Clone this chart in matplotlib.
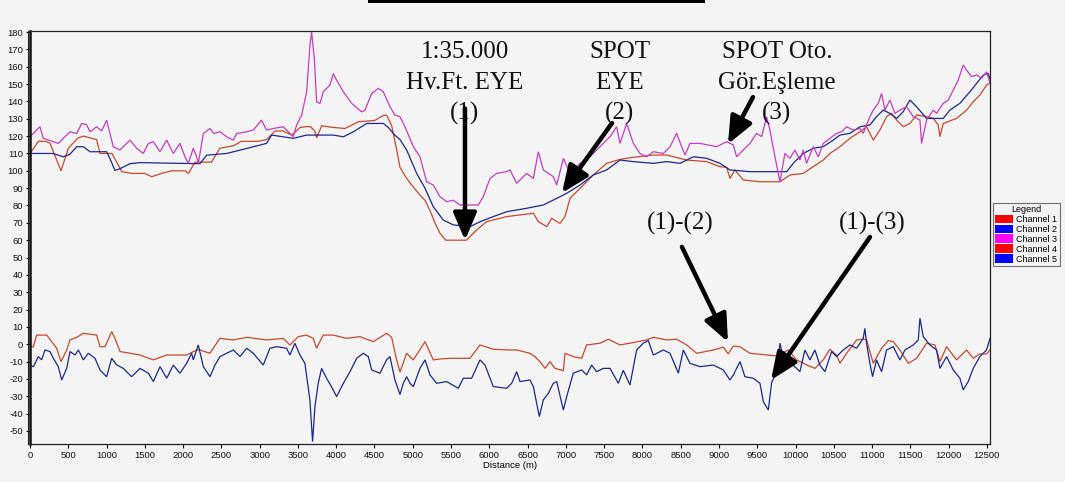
import matplotlib
matplotlib.use('Agg')
import matplotlib.pyplot as plt
from matplotlib.patches import Patch, Rectangle
from matplotlib.lines import Line2D

# ---------------- data (distance m, elevation / difference) ----------------
ch1 = [(0,110),(110,117),(200,117),(260,116),(405,100),(500,113),(630,119),(700,120),(870,118),(915,110),
       (1070,110),(1200,99.5),(1330,98.5),(1500,98.5),(1590,96.6),(1720,98.5),(1850,100),(2025,100),(2070,98.5),
       (2155,105),(2370,105),(2480,113),(2660,114.5),(2760,117),(2980,117),(3090,118),(3200,122.9),(3300,123),
       (3420,120.6),(3530,125),(3590,125.4),(3660,125.5),(3720,123),(3745,119),(3810,126),(3960,125),(4115,124.4),
       (4290,128.3),(4500,129),(4620,132),(4660,132),(4725,126),(4790,112),(4833,102),(4900,97),(4964,93),
       (5094,86),(5160,83),(5225,77),(5290,70),(5355,64),(5430,60),(5700,60),(5835,65.9),(5965,70.7),(6226,73.6),
       (6575,75.5),(6640,70.7),(6750,67.8),(6814,72.6),(6923,69.7),(6988,73.6),(7054,84.1),(7184,89.9),(7271,93.7),
       (7358,97.6),(7532,104.3),(7707,106.6),(7881,107.8),(8142,109.1),(8317,109.1),(8578,106.2),(8839,105.3),
       (9012,102.4),(9100,102),(9143,95.6),(9208,100.5),(9317,94.7),(9535,93.7),(9796,93.7),(9927,97.6),
       (10101,98.5),(10231,102.4),(10362,106.2),(10449,110),(10580,113.9),(10710,118.7),(10841,122.5),
       (10928,125.4),(10971,121.6),(11015,117.7),(11102,123.5),(11189,131.2),(11254,133.1),(11320,129.3),
       (11407,125.4),(11494,127.3),(11581,132.2),(11712,131.2),(11799,130.2),(11864,126.4),(11886,119.7),
       (11929,127.3),(12103,130.2),(12234,135),(12321,139.8),(12409,143.7),(12496,149.5),(12540,150.4)]

ch2 = [(0,110),(170,110),(300,110),(435,108.1),(520,109.5),(610,113.9),(697,113.9),(784,111),(1000,111),
       (1045,107),(1110,100.2),(1175,101.2),(1306,104.1),(1437,104.7),(2220,104.1),(2307,109),(2569,110),
       (2830,112.9),(3090,115.8),(3156,120.6),(3308,119.6),(3439,118.7),(3613,120.6),(3962,120.6),(4093,119.6),
       (4223,122.5),(4398,127.3),(4615,127.3),(4680,125),(4767,120.5),(4833,118),(4920,112),(5051,98.5),
       (5159,90),(5268,79.3),(5399,71.6),(5530,68.8),(5747,67.8),(5878,70.6),(6052,73.6),(6226,76.4),
       (6487,78.4),(6705,80.3),(6880,84.1),(7010,87),(7184,91.8),(7358,97.6),(7532,100.5),(7707,106.2),
       (7881,105.3),(8142,104.3),(8317,105.3),(8491,104.3),(8665,108.1),(8839,107.2),(9013,104.3),(9143,100.5),
       (9405,99.5),(9622,99.5),(9884,99.5),(9970,104.3),(10101,110),(10231,113),(10362,113.9),(10492,117.7),
       (10580,120.6),(10710,121.6),(10841,125.4),(10971,126.4),(11058,131.2),(11145,135),(11233,133.1),
       (11320,130.2),(11407,134.1),(11494,140.8),(11581,136.9),(11712,130.2),(11929,130.2),(12016,135),
       (12147,138.9),(12278,145.6),(12365,150.4),(12452,155.2),(12517,156.2),(12540,153)]

ch3 = [(0,119),(22,120.6),(130,125.4),(174,118.7),(305,116.8),(370,115.8),(435,118.7),(523,122.5),(610,121.5),
       (675,127.3),(740,126.5),(784,122.5),(870,125.4),(936,123),(1001,129.2),(1088,113.9),(1175,112),
       (1306,117.7),(1393,113),(1480,110),(1546,115.8),(1611,116.8),(1698,111),(1785,117.7),(1872,110),
       (1959,115.8),(2024,108.1),(2068,104.3),(2133,113),(2177,108.1),(2199,104.3),(2264,121.5),(2351,124.4),
       (2400,121.5),(2482,122.5),(2569,119.6),(2656,117.7),(2700,121.5),(2830,122.5),(2917,123.5),(3025,129.2),
       (3090,123.5),(3178,124.4),(3308,125.4),(3352,123.5),(3439,119.6),(3483,126.4),(3548,132),(3614,145.6),
       (3657,172.5),(3679,180),(3714,164.8),(3744,139.8),(3788,138.8),(3831,145.6),(3918,149.4),(3962,156),
       (4005,152.3),(4093,145.6),(4202,138.9),(4332,134),(4376,135),(4463,144.6),(4550,147.5),(4615,145.6),
       (4702,136.9),(4767,132.1),(4833,131.2),(4898,125.4),(5007,113.9),(5094,108.1),(5181,93.7),(5268,91.8),
       (5355,85.1),(5443,82.2),(5530,83),(5617,80.3),(5856,80.3),(5921,85.1),(6009,95.6),(6096,98.5),
       (6226,99.5),(6270,100.5),(6357,92.8),(6487,98.5),(6575,95.6),(6640,111),(6705,100.5),(6836,96.6),
       (6880,91.8),(6967,107.2),(7054,98.5),(7184,104.3),(7315,108.1),(7445,113.9),(7576,119.7),(7663,125.4),
       (7707,115.8),(7794,127.3),(7837,121.6),(7881,115.8),(7968,110),(8055,108.1),(8142,111),(8273,110),
       (8360,113.9),(8447,121.6),(8512,113.9),(8556,109.1),(8621,115.8),(8752,115.8),(8969,113.9),(9100,116.8),
       (9187,114.9),(9230,108.1),(9317,112),(9404,115.8),(9491,121.6),(9557,119.7),(9622,131.2),(9665,123.5),
       (9731,108.1),(9796,93.7),(9861,110),(9927,107.2),(9992,112),(10057,106.2),(10101,112),(10144,104.3),
       (10231,113.9),(10297,108.1),(10362,115.8),(10449,118.7),(10536,121.6),(10601,122.5),(10667,125.4),
       (10754,123.5),(10841,124.4),(10884,121.6),(10928,126.4),(10971,131.2),(11015,135),(11080,138.9),
       (11124,144.6),(11167,135),(11233,140.8),(11298,133.1),(11363,135),(11450,136.9),(11538,131.2),
       (11625,129.3),(11646,115.8),(11712,129.3),(11799,135),(11842,133.1),(11929,138.9),(11995,140.8),
       (12060,146.6),(12125,152.3),(12191,161),(12234,158),(12300,154.3),(12365,155.2),(12430,153.3),
       (12496,157.1),(12540,150.4)]

ch4 = [(0,-1.7),(43,-1.5),(87,5.3),(218,5.3),(283,1.5),(348,-2.3),(405,-10),(479,-3.3),(523,2.5),(610,4),
       (697,6.3),(871,5.3),(914,-1.4),(980,-1.4),(1067,7.3),(1110,3.4),(1176,-4.2),(1437,-6.2),(1611,-9),
       (1785,-6.2),(2046,-6.2),(2177,-3.3),(2220,-3.3),(2351,-5.2),(2394,-2.3),(2481,3.4),(2655,2.5),(2830,4),
       (3091,2.5),(3308,3.4),(3395,-0.4),(3504,4.4),(3612,5.3),(3700,3.4),(3743,-2.3),(3830,5.3),(3961,5.3),
       (4135,3.4),(4310,4.4),(4484,1.5),(4658,6.3),(4724,4),(4789,-9),(4833,-16),(4920,-5.2),(5007,-9),
       (5160,1.5),(5268,-9),(5355,-8.5),(5486,-8.1),(5747,-8.1),(5878,-0.4),(6052,-2.9),(6270,-3.3),(6357,-3.3),
       (6531,-5.2),(6596,-7.1),(6662,-10),(6727,-13.9),(6792,-10),(6858,-13.9),(6967,-15.2),(6988,-5.2),
       (7097,-7.1),(7206,-8.1),(7271,-0.4),(7445,0.6),(7554,2.9),(7707,-0.4),(7881,1),(8055,2.5),(8142,4),
       (8317,2.5),(8447,2.9),(8578,-0.4),(8708,-5.2),(8926,-3.3),(9056,-1.7),(9121,-5.6),(9186,-1),(9273,-1.4),
       (9404,-5.2),(9752,-6.7),(9905,-3.3),(10014,-9),(10144,-11.9),(10253,-13.9),(10362,-9),(10449,-2.9),
       (10536,-6.2),(10580,-11),(10667,-5.2),(10797,2.5),(10884,2.9),(10928,2.5),(11015,-11),(11124,-2.3),
       (11211,2.1),(11276,1.5),(11363,-3.3),(11472,-11),(11581,-8.1),(11712,0.6),(11821,-0.4),(11886,-10),
       (11973,-1.4),(12103,-9),(12234,-3.3),(12321,-8.1),(12408,-5.6),(12495,-5.6),(12540,-3.3)]

ch5 = [(0,-12),(43,-13),(109,-7.1),(152,-9),(196,-3.3),(261,-4.2),(305,-8.1),(370,-13),(414,-20.6),(479,-13.9),
       (523,-4.2),(588,-6.2),(632,-3.3),(697,-9),(762,-5.2),(849,-8.1),(914,-14.8),(1001,-18.7),(1067,-8.1),
       (1132,-11.9),(1219,-13.9),(1327,-18.7),(1437,-13.9),(1546,-16.7),(1611,-21.5),(1698,-12.9),(1785,-19.6),
       (1872,-12),(1959,-16.7),(2046,-11),(2111,-5.2),(2133,-9),(2198,-0.4),(2264,-12.9),(2351,-18.7),
       (2416,-12),(2482,-7.1),(2655,-3.3),(2743,-7.1),(2830,-2.3),(2917,-5.2),(3047,-12),(3134,-2.3),
       (3221,-1.4),(3352,-2.3),(3395,-6.2),(3460,0.6),(3526,-6.2),(3591,-11),(3656,-32.1),(3691,-56.1),
       (3722,-36),(3765,-22.5),(3809,-13.9),(3874,-19.6),(3961,-26.3),(4005,-30.2),(4093,-22.5),(4180,-15.8),
       (4267,-8.1),(4354,-5.2),(4419,-7.1),(4463,-14.8),(4571,-16.7),(4658,-9),(4702,-7.1),(4767,-20.6),
       (4833,-29),(4876,-22.5),(4920,-18.7),(4964,-22.5),(5007,-24.4),(5094,-13.9),(5160,-9),(5225,-17.7),
       (5312,-22.5),(5442,-21.5),(5595,-25.4),(5660,-19.6),(5769,-19.6),(5878,-9),(5943,-12),(6052,-24.4),
       (6226,-25.4),(6292,-22.5),(6357,-15.8),(6400,-21.5),(6531,-20.6),(6575,-24.4),(6653,-41.7),(6705,-32.1),
       (6770,-28.3),(6836,-22.5),(6880,-21.5),(6967,-37.9),(7010,-30.2),(7097,-16.7),(7206,-14.8),(7271,-17.7),
       (7336,-12),(7401,-15.8),(7489,-13.9),(7576,-13.9),(7685,-22.5),(7750,-15),(7837,-23.5),(7924,-3.3),
       (8011,0.6),(8077,2.1),(8142,-6.2),(8273,-3.3),(8360,-5.2),(8469,-16.7),(8534,-3.3),(8621,-11),
       (8752,-12.9),(8926,-12),(9056,-14.8),(9143,-20.6),(9187,-17.7),(9274,-10),(9339,-18.7),(9448,-19.6),
       (9535,-22.5),(9579,-33.1),(9644,-37.9),(9688,-22),(9753,-16),(9797,0.6),(9840,-8),(9905,-6.2),
       (9970,-12),(10057,-15.8),(10122,-3.3),(10188,-9),(10253,-3.3),(10318,-12),(10384,-15.8),(10471,-4.2),
       (10536,-7.1),(10623,-3.3),(10710,-0.4),(10797,-2.3),(10884,3.4),(10906,9.2),(10928,0.6),(10971,-11),
       (11006,-18.7),(11058,-9),(11124,-15.8),(11189,-3.3),(11276,-1.4),(11363,-9),(11429,-3.3),(11538,-0.4),
       (11603,2.5),(11625,15),(11668,4.4),(11755,-0.4),(11842,-3.3),(11886,-13.9),(11973,-7.1),(12060,-14.8),
       (12147,-19.6),(12190,-26.3),(12256,-21.5),(12321,-13.9),(12408,-7.1),(12495,-3.3),(12540,3.4)]

channels = ["Channel 1", "Channel 2", "Channel 3", "Channel 4", "Channel 5"]
legend_colors = ["#ff0000", "#0000ff", "#ff00ff", "#ff0000", "#0000ff"]
line_colors = ["#c8482c", "#1c2890", "#c43cc4", "#c8482c", "#1c2890"]
series = [ch1, ch2, ch3, ch4, ch5]

x_ticks = list(range(0, 12501, 500))
y_ticks = list(range(-50, 181, 10))

# annotation texts
ann_blocks = [(["1:35.000", "Hv.Ft. EYE", "(1)"], 5682),
              (["SPOT", "EYE", "(2)"], 7706),
              (["SPOT Oto.", "Gör.Eşleme", "(3)"], 9757)]
diff_labels = [("(1)-(2)", 8490), ("(1)-(3)", 11004)]
arrows = [((5682, 136), (5682, 60)),
          ((7602, 127.5), (6949, 87.2)),
          ((9444, 142.5), (9117, 115.4)),
          ((8516, 56.1), (9117, 1.3)),
          ((10972, 61.8), (9679, -20.6))]

# ---------------- figure ----------------
W, H = 1065, 482
bg = "#f4f4f4"
fig = plt.figure(figsize=(W / 100, H / 100), dpi=100, facecolor=bg)
ax = fig.add_axes([30 / W, 38 / H, 960 / W, 413 / H], facecolor=bg)

for data, col in zip(series, line_colors):
    d, v = zip(*data)
    ax.plot(d, v, color=col, lw=0.9, solid_joinstyle='miter')

ax.set_xlim(0, 12540)
ax.set_ylim(-57.5, 180.6)
ax.set_xticks(x_ticks)
ax.set_yticks(y_ticks)
tick_font = dict(family=['Liberation Sans', 'DejaVu Sans'], size=6.8)
ax.set_xticklabels([str(t) for t in x_ticks], **tick_font)
ax.set_yticklabels([str(t) for t in y_ticks], **tick_font)
ax.tick_params(axis='both', direction='out', length=3, width=0.8, pad=2, colors='#111111')
ax.set_xlabel("Distance (m)", fontdict=tick_font, labelpad=1)

for s in ['top', 'right', 'bottom']:
    ax.spines[s].set_linewidth(0.9)
    ax.spines[s].set_color('#222222')
ax.spines['left'].set_linewidth(1.8)
ax.spines['left'].set_color('#111111')
# extra thin line next to the left axis (double border)
fig.add_artist(Line2D([27.5 / W, 27.5 / W], [38 / H, 451 / H], transform=fig.transFigure,
                      color='#222222', lw=0.8))

# top black bar
fig.add_artist(Rectangle((368 / W, 1 - 3 / H), (705 - 368) / W, 3 / H, transform=fig.transFigure,
                         color='black', lw=0))

# annotations
serif = ['Liberation Serif', 'DejaVu Serif']
baselines = [165.0, 147.1, 129.3]
for lines, xd in ann_blocks:
    for txt, yb in zip(lines, baselines):
        ax.text(xd, yb, txt, ha='center', va='baseline', fontsize=18, family=serif, color='#111111')
for txt, xd in diff_labels:
    ax.text(xd, 65.9, txt, ha='center', va='baseline', fontsize=18, family=serif, color='#111111')

for tail, tip in arrows:
    ax.annotate("", xy=tip, xytext=tail,
                arrowprops=dict(arrowstyle='-|>,head_length=0.75,head_width=0.32', lw=3.2,
                                color='black', mutation_scale=22, shrinkA=0, shrinkB=0))

# legend
handles = [Patch(facecolor=c, edgecolor='none') for c in legend_colors]
leg = fig.legend(handles, channels, loc='upper left', bbox_to_anchor=(993 / W, 1 - 203 / H),
                 frameon=True, fancybox=False, edgecolor='#707070', facecolor=bg, framealpha=1,
                 prop=dict(family=['Liberation Sans', 'DejaVu Sans'], size=6.5),
                 title='Legend', title_fontproperties=dict(family=['Liberation Sans', 'DejaVu Sans'], size=6.5),
                 handlelength=2.0, handleheight=1.1, handletextpad=0.35, labelspacing=0.05,
                 borderpad=0.25, borderaxespad=0)
leg.get_frame().set_linewidth(0.8)

fig.savefig("out.png", dpi=100, facecolor=bg)
